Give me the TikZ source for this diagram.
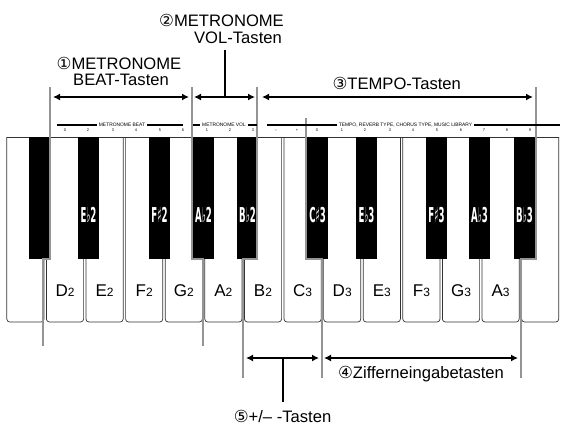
\documentclass[tikz,border=0pt]{standalone}
\usepackage{fontspec}
\usetikzlibrary{arrows.meta}
\setmainfont{Liberation Sans}
\newfontfamily\symfont{DejaVu Sans}
\newfontfamily\condfont[FakeStretch=0.42]{DejaVu Sans Bold}
\newcommand\circnum[1]{{\symfont #1}}
\begin{document}
\begin{tikzpicture}[x=1pt,y=-1pt,
  wkey/.style={draw=black!80,line width=0.7pt,fill=white,rounded corners=3pt},
  guide/.style={draw=black!42,line width=2.4pt},
  dimarrow/.style={line width=1.8pt,{Latex[length=7pt,width=7pt]}-{Latex[length=7pt,width=7pt]}},
  stem/.style={line width=2pt},
  title/.style={font=\fontsize{16.6}{16.6}\selectfont,inner sep=0pt,anchor=base},
  bus/.style={line width=1.5pt},
  bustext/.style={font=\fontsize{4.9}{5}\selectfont,fill=white,inner xsep=2pt,inner ysep=0.5pt},
  busnum/.style={font=\fontsize{3.9}{4}\selectfont,inner sep=0pt},
  wlabel/.style={anchor=base,inner sep=0pt},
  blabel/.style={text=white,font=\condfont\fontsize{20.5}{20.5}\selectfont,inner sep=0pt}
]
\useasboundingbox (0,0) rectangle (562,426);
% white keys
\foreach \k in {0,...,13} {
  \pgfmathsetmacro\xl{6.8+39.6*\k}
  \pgfmathsetmacro\xr{\xl+37.2}
  \draw[wkey] (\xl,137) -- (\xl,322) -- (\xr,322) -- (\xr,137);
}
\draw[line width=0.7pt,black!80] (6.8,137) -- (558.8,137);
% black keys
\foreach \x in {29,78,149,193,237,307,356,426,469,514}
  \fill[black] (\x,137) rectangle ++(21,122);
% guides
\draw[guide] (50,87) -- (50,259) -- (43,259) -- (43,346);
\draw[guide] (192,87) -- (192,259) -- (203,259) -- (203,346);
\draw[guide] (257,87) -- (257,259) -- (243,259) -- (243,378);
\draw[guide] (306,118) -- (306,259) -- (322,259) -- (322,378);
\draw[guide] (536,87) -- (536,259) -- (521,259) -- (521,378);
% buses
\draw[bus] (57,125) -- (183,125);
\node[bustext] (bus1) at (122,125) {METRONOME BEAT};
\draw[bus] (193,125) -- (257,125);
\node[bustext] (bus2) at (224,125) {METRONOME VOL};
\draw[bus] (267,125) -- (560,125);
\node[bustext] (bus3) at (405.5,125) {TEMPO, REVERB TYPE, CHORUS TYPE, MUSIC LIBRARY};
\foreach \x/\t [count=\i] in {65/0,88/2,113/3,136/4,160/5,183/6,207/1,230/2,253/3,276/–,297/+,317/0,342/1,365/2,390/3,413/4,437/5,461/6,484/7,507/8,530/9}
  \node[busnum] (n\i) at (\x,130.5) {\t};
% black key labels
\foreach \x/\t [count=\i] in {88.5/E♭2,159.5/F♯2,203.5/A♭2,247.5/B♭2,317.5/C♯3,366.5/E♭3,436.5/F♯3,479.5/A♭3,524.5/B♭3}
  \node[blabel] (bl\i) at (\x,215) {\t};
% white key labels
\foreach \x/\n/\o [count=\i] in {65/D/2,104.6/E/2,144.2/F/2,183.8/G/2,223.4/A/2,263/B/2,302.6/C/3,342.2/D/3,381.8/E/3,421.4/F/3,461/G/3,500.6/A/3}
  \node[wlabel] (wl\i) at (\x,296) {\fontsize{17}{17}\selectfont\n\fontsize{12}{12}\selectfont\o};
% arrows
\coordinate (a1l) at (53,97); \coordinate (a1r) at (189,97);
\coordinate (a2l) at (194,97); \coordinate (a2r) at (255,97);
\coordinate (a3l) at (262,97); \coordinate (a3r) at (533,97);
\coordinate (a5l) at (246,358); \coordinate (a5r) at (319,358);
\coordinate (a4l) at (324,358); \coordinate (a4r) at (518,358);
\draw[dimarrow] (a1l) -- (a1r);
\draw[dimarrow] (a2l) -- (a2r);
\draw[dimarrow] (a3l) -- (a3r);
\draw[dimarrow] (a5l) -- (a5r);
\draw[dimarrow] (a4l) -- (a4r);
\coordinate (s2t) at (225,50); \coordinate (s2b) at (225,97);
\coordinate (s5t) at (283,358); \coordinate (s5b) at (283,402);
\draw[stem] (s2t) -- (s2b);
\draw[stem] (s5t) -- (s5b);
% titles
\node[title] (t1a) at (119,69) {\circnum{①}METRONOME};
\node[title] (t1b) at (121,85) {BEAT-Tasten};
\node[title] (t2a) at (221.5,26.7) {\circnum{②}METRONOME};
\node[title] (t2b) at (238,43.3) {VOL-Tasten};
\node[title] (t3) at (396.7,89.3) {\circnum{③}TEMPO-Tasten};
\node[title] (t4) at (421,378) {\circnum{④}Zifferneingabetasten};
\node[title] (t5) at (282.5,422) {\circnum{⑤}+/– -Tasten};
\end{tikzpicture}
\end{document}
